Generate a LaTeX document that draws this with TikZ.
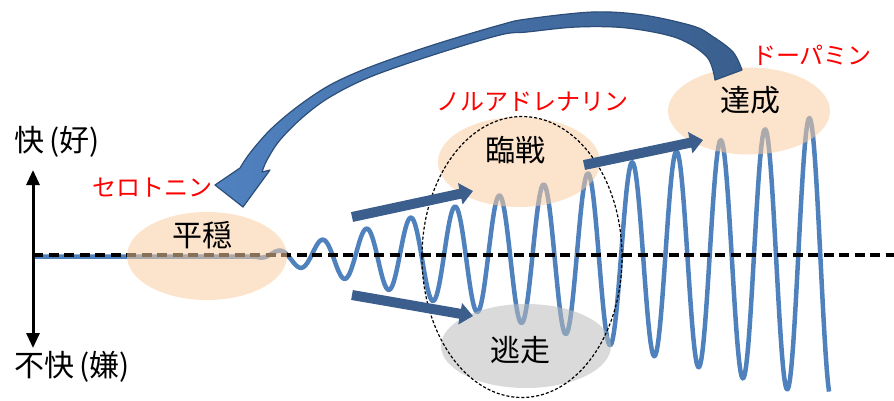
\documentclass[tikz,border=0pt]{standalone}
\usepackage{fontspec}
\newfontfamily\jp{Noto Sans CJK JP}
\usetikzlibrary{arrows.meta,shapes.geometric}
\definecolor{wavecol}{RGB}{79,129,189}
\definecolor{arrowblue}{RGB}{59,94,140}
\definecolor{peach}{RGB}{249,204,160}
\definecolor{grayfill}{RGB}{188,188,188}
\definecolor{lightarrow}{RGB}{80,130,192}
\definecolor{darkarrow}{RGB}{58,95,142}
\definecolor{arrowline}{RGB}{45,78,120}
\begin{document}
\begin{tikzpicture}[x=1pt,y=-1pt,
  peachblob/.style={ellipse, draw=none, fill=peach, fill opacity=0.55, inner sep=0pt},
  grayblob/.style={ellipse, draw=none, fill=grayfill, fill opacity=0.55, inner sep=0pt},
  dashedring/.style={ellipse, draw=black, line width=1.2pt, dash pattern=on 3pt off 2pt, inner sep=0pt},
  lbl/.style={font=\jp\fontsize{30}{33}\selectfont, text=black, inner sep=0pt},
  redlbl/.style={font=\jp\fontsize{24}{27}\selectfont, text=red, inner sep=0pt},
  wavestyle/.style={draw=wavecol, line width=4.5pt, line join=round},
  zeroline/.style={draw=black, line width=3.5pt, dash pattern=on 10pt off 5.5pt},
  axisarrow/.style={draw=black, line width=3pt, {Triangle[width=13pt,length=15pt]}-{Triangle[width=13pt,length=15pt]}},
  bluearrow/.style={draw=arrowblue, line width=10pt, -{Triangle[width=21pt,length=13pt]}}
]
\useasboundingbox (0,0) rectangle (894,400);

% oscillation
\coordinate (wstart) at (33,256.5);
\draw[wavestyle] (wstart) -- (255,256.5) -- plot[domain=255:829, samples=500] (\x, {256.5 - 0.25*(\x-255)*sin(8.1264*(\x-310.9))});

% zero line
\coordinate (zl) at (33,255);
\coordinate (zr) at (894,255);
\draw[zeroline] (zl) -- (zr);

% axis
\coordinate (ytop) at (33,170);
\coordinate (ybot) at (33,348);
\draw[axisarrow] (ybot) -- (ytop);

% blobs
\node[peachblob, minimum width=160pt, minimum height=88pt] (heiblob) at (207,256) {};
\node[peachblob, minimum width=162pt, minimum height=90pt] (rinblob) at (519,162) {};
\node[peachblob, minimum width=162pt, minimum height=87pt] (tasblob) at (749,111) {};
\node[grayblob, minimum width=170pt, minimum height=84pt] (tosblob) at (526,346) {};

% dashed ring
\node[dashedring, minimum width=200pt, minimum height=281pt] (ring) at (522,257) {};

% straight arrows
\coordinate (a1s) at (352,217);
\coordinate (a1e) at (473,191);
\coordinate (a2s) at (352,295);
\coordinate (a2e) at (473,316);
\coordinate (a3s) at (584,165);
\coordinate (a3e) at (703,140);
\draw[bluearrow] (a1s) -- (a1e);
\draw[bluearrow] (a2s) -- (a2e);
\draw[bluearrow] (a3s) -- (a3e);

% labels
\node[lbl] (kai) at (57,142) {快\hspace{5pt}(好)};
\node[lbl] (fukai) at (72,367) {不快\hspace{5pt}(嫌)};
\node[lbl] (heion) at (202,235) {平穏};
\node[lbl] (rinsen) at (515,150) {臨戦};
\node[lbl] (tassei) at (750,100) {達成};
\node[lbl] (tousou) at (520,350) {逃走};
\node[redlbl] (sero) at (152,188) {セロトニン};
\node[redlbl] (nor) at (532,102) {ノルアドレナリン};
\node[redlbl] (dopa) at (812,55) {ドーパミン};

% big curved arrow
\shadedraw[left color=lightarrow, middle color=darkarrow, right color=darkarrow, draw=arrowline, line width=1.2pt, line join=round]
  plot[smooth, tension=0.55] coordinates {(742,70) (733,52) (712,36) (693,26) (643,15) (593,12) (527,19) (500,25) (433,45) (370,67) (330,85) (297,107) (270,130) (250,153) (240,168)}
  -- (215,185) -- (243,207) -- (270,170) -- (262,172)
  -- plot[smooth, tension=0.55] coordinates {(262,172) (267,160) (280,140) (303,117) (330,97) (370,77) (433,55) (500,35) (527,32) (577,27) (627,28) (677,38) (707,57) (715,80)}
  -- cycle;
\end{tikzpicture}
\end{document}
